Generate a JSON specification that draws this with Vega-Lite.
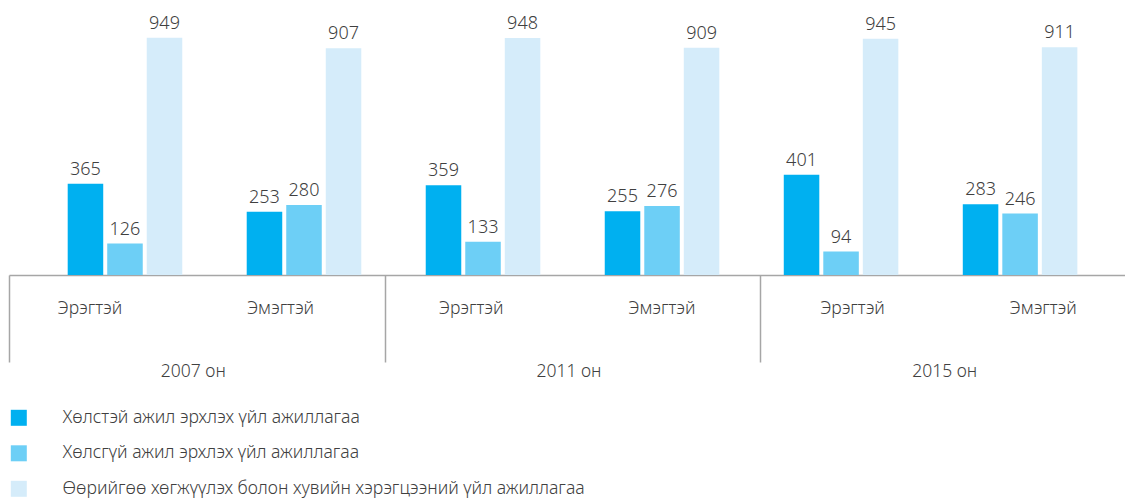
{
  "$schema": "https://vega.github.io/schema/vega-lite/v6.json",
  "width": 1116,
  "height": 275,
  "autosize": {"type": "none"},
  "padding": {"left": 9, "top": 0, "right": 0, "bottom": 224},
  "config": {
    "view": {"stroke": null},
    "font": "Noto Sans",
    "axis": {"labelFont": "Noto Sans", "labelFontWeight": 300, "labelColor": "#404040", "labelFontSize": 17.5, "title": null}
  },
  "data": {
    "values": [
      {"year": "2007 он", "gender": "Эрэгтэй", "grp": "2007 Эрэгтэй", "cat": "Хөлстэй ажил эрхлэх үйл ажиллагаа", "value": 365},
      {"year": "2007 он", "gender": "Эрэгтэй", "grp": "2007 Эрэгтэй", "cat": "Хөлсгүй ажил эрхлэх үйл ажиллагаа", "value": 126},
      {"year": "2007 он", "gender": "Эрэгтэй", "grp": "2007 Эрэгтэй", "cat": "Өөрийгөө хөгжүүлэх болон хувийн хэрэгцээний үйл ажиллагаа", "value": 949},
      {"year": "2007 он", "gender": "Эмэгтэй", "grp": "2007 Эмэгтэй", "cat": "Хөлстэй ажил эрхлэх үйл ажиллагаа", "value": 253},
      {"year": "2007 он", "gender": "Эмэгтэй", "grp": "2007 Эмэгтэй", "cat": "Хөлсгүй ажил эрхлэх үйл ажиллагаа", "value": 280},
      {"year": "2007 он", "gender": "Эмэгтэй", "grp": "2007 Эмэгтэй", "cat": "Өөрийгөө хөгжүүлэх болон хувийн хэрэгцээний үйл ажиллагаа", "value": 907},
      {"year": "2011 он", "gender": "Эрэгтэй", "grp": "2011 Эрэгтэй", "cat": "Хөлстэй ажил эрхлэх үйл ажиллагаа", "value": 359},
      {"year": "2011 он", "gender": "Эрэгтэй", "grp": "2011 Эрэгтэй", "cat": "Хөлсгүй ажил эрхлэх үйл ажиллагаа", "value": 133},
      {"year": "2011 он", "gender": "Эрэгтэй", "grp": "2011 Эрэгтэй", "cat": "Өөрийгөө хөгжүүлэх болон хувийн хэрэгцээний үйл ажиллагаа", "value": 948},
      {"year": "2011 он", "gender": "Эмэгтэй", "grp": "2011 Эмэгтэй", "cat": "Хөлстэй ажил эрхлэх үйл ажиллагаа", "value": 255},
      {"year": "2011 он", "gender": "Эмэгтэй", "grp": "2011 Эмэгтэй", "cat": "Хөлсгүй ажил эрхлэх үйл ажиллагаа", "value": 276},
      {"year": "2011 он", "gender": "Эмэгтэй", "grp": "2011 Эмэгтэй", "cat": "Өөрийгөө хөгжүүлэх болон хувийн хэрэгцээний үйл ажиллагаа", "value": 909},
      {"year": "2015 он", "gender": "Эрэгтэй", "grp": "2015 Эрэгтэй", "cat": "Хөлстэй ажил эрхлэх үйл ажиллагаа", "value": 401},
      {"year": "2015 он", "gender": "Эрэгтэй", "grp": "2015 Эрэгтэй", "cat": "Хөлсгүй ажил эрхлэх үйл ажиллагаа", "value": 94},
      {"year": "2015 он", "gender": "Эрэгтэй", "grp": "2015 Эрэгтэй", "cat": "Өөрийгөө хөгжүүлэх болон хувийн хэрэгцээний үйл ажиллагаа", "value": 945},
      {"year": "2015 он", "gender": "Эмэгтэй", "grp": "2015 Эмэгтэй", "cat": "Хөлстэй ажил эрхлэх үйл ажиллагаа", "value": 283},
      {"year": "2015 он", "gender": "Эмэгтэй", "grp": "2015 Эмэгтэй", "cat": "Хөлсгүй ажил эрхлэх үйл ажиллагаа", "value": 246},
      {"year": "2015 он", "gender": "Эмэгтэй", "grp": "2015 Эмэгтэй", "cat": "Өөрийгөө хөгжүүлэх болон хувийн хэрэгцээний үйл ажиллагаа", "value": 911}
    ]
  },
  "resolve": {"scale": {"x": "independent"}, "axis": {"x": "independent"}},
  "layer": [
    {
      "encoding": {
        "x": {"field": "grp", "type": "nominal", "sort": null,
              "scale": {"paddingInner": 0.36, "paddingOuter": 0.297, "align": 0.552},
              "axis": null},
        "xOffset": {"field": "cat", "type": "nominal", "sort": null,
                    "scale": {"paddingInner": 0.101, "paddingOuter": 0}},
        "y": {"field": "value", "type": "quantitative",
              "scale": {"domain": [0, 1100], "nice": false, "zero": true},
              "axis": null}
      },
      "layer": [
        {
          "mark": {"type": "bar"},
          "encoding": {
            "color": {"field": "cat", "type": "nominal", "sort": null,
                      "scale": {"range": ["#00B0F0", "#6DCFF6", "#D5ECFA"]},
                      "legend": {"orient": "none", "legendX": 1, "legendY": 409, "title": null,
                                 "direction": "vertical", "padding": 0,
                                 "symbolType": "square", "symbolSize": 256, "symbolStrokeWidth": 0,
                                 "labelFont": "Noto Sans", "labelFontWeight": 300, "labelFontSize": 17.6, "labelColor": "#404040",
                                 "labelOffset": 35, "rowPadding": 16.5, "labelLimit": 800}}
          }
        },
        {
          "mark": {"type": "text", "baseline": "alphabetic", "dy": -9, "fontSize": 18, "fontWeight": 300, "color": "#404040", "font": "Noto Sans"},
          "encoding": {"text": {"field": "value", "type": "quantitative"}}
        }
      ]
    },
    {
      "mark": {"type": "point", "opacity": 0},
      "encoding": {
        "x": {"field": "year", "type": "nominal", "sort": null,
              "scale": {"range": [0, 1127], "paddingInner": 0, "paddingOuter": 0},
              "axis": {"orient": "bottom", "domain": true, "domainColor": "#A6A6A6", "domainWidth": 1.5,
                       "ticks": true, "tickBand": "extent", "tickSize": 87, "tickColor": "#A6A6A6", "tickWidth": 1.5,
                       "labelPadding": 0, "labelOffset": -4, "labelAngle": 0}}
      }
    },
    {
      "mark": {"type": "point", "opacity": 0},
      "encoding": {
        "x": {"field": "grp", "type": "nominal", "sort": null,
              "scale": {"range": [-15, 1129], "paddingInner": 0, "paddingOuter": 0},
              "axis": {"orient": "bottom", "domain": false, "ticks": false,
                       "labelExpr": "split(datum.value, ' ')[1]",
                       "labelPadding": 24, "labelAngle": 0}}
      }
    }
  ]
}
